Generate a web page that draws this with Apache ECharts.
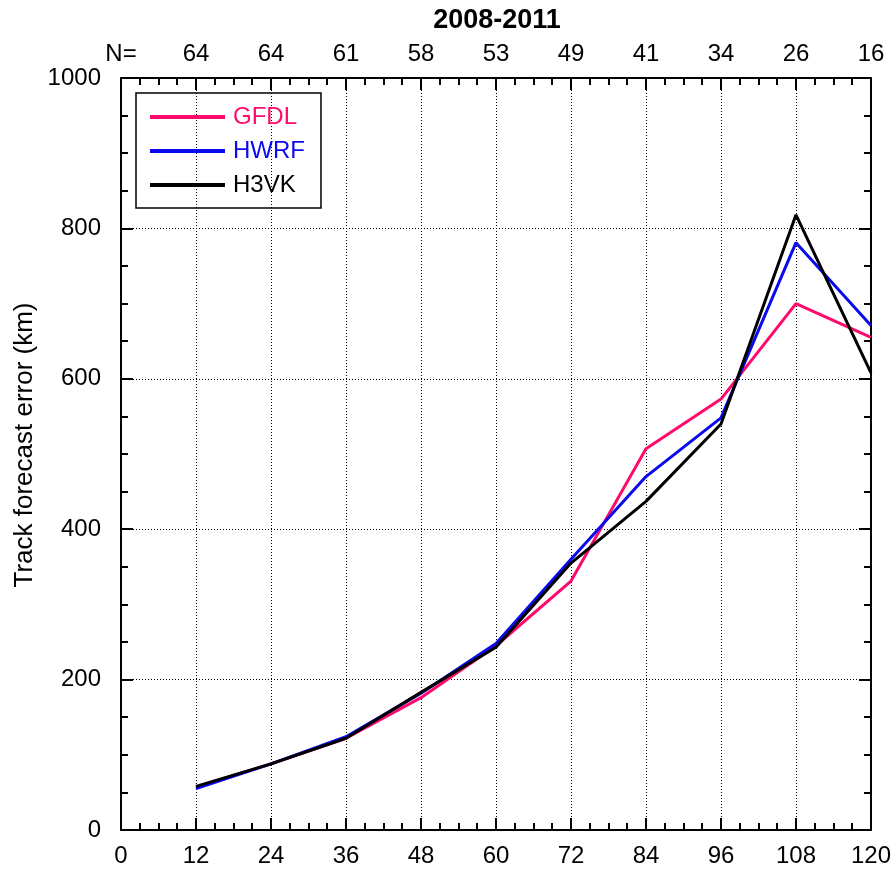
<!DOCTYPE html>
<html>
<head>
<meta charset="utf-8">
<script src="https://cdn.jsdelivr.net/npm/echarts@6/dist/echarts.min.js"></script>
<style>
  html, body { margin: 0; padding: 0; background: #fff; }
  #chart { width: 894px; height: 872px; }
</style>
</head>
<body>
<div id="chart"></div>
<script>
// ---- data ----
const leadTimes = [12, 24, 36, 48, 60, 72, 84, 96, 108, 120];
const sampleCounts = [64, 64, 61, 58, 53, 49, 41, 34, 26, 16];
const gfdl = [57, 88, 122, 176, 245, 331, 507, 573, 700, 655];
const hwrf = [55, 88, 124, 182, 248, 360, 470, 548, 781, 671];
const h3vk = [58, 88, 122, 183, 243, 355, 437, 540, 818, 608];
const seriesNames = ['GFDL', 'HWRF', 'H3VK'];
const seriesColors = ['#ff0a6c', '#0a0aee', '#000000'];
const title = '2008-2011';
const yTitle = 'Track forecast error (km)';

const FONT = '"Liberation Sans", Arial, Helvetica, sans-serif';
const pairs = arr => leadTimes.map((x, i) => [x, arr[i]]);

const chart = echarts.init(document.getElementById('chart'), null, { renderer: 'canvas' });

const gridLine = { show: true, lineStyle: { color: '#000', width: 1, type: [1, 2] } };
const frameLine = { show: true, onZero: false, lineStyle: { color: '#000', width: 2 } };

const option = {
  backgroundColor: '#fff',
  animation: false,
  textStyle: { fontFamily: FONT },
  grid: { left: 121, right: 21, top: 78, bottom: 42, containLabel: false },
  graphic: [{
    type: 'text', x: 497, y: 21,
    style: { text: title, font: 'bold 27px ' + FONT, fill: '#000', textAlign: 'center', textVerticalAlign: 'middle' }
  }, {
    type: 'text', x: 25, y: 445, rotation: Math.PI / 2,
    style: { text: yTitle, font: '26px ' + FONT, fill: '#000', textAlign: 'center', textVerticalAlign: 'middle' }
  }],
  legend: {
    left: 136, top: 93, orient: 'vertical',
    borderColor: '#000', borderWidth: 1.5, borderRadius: 0,
    padding: [12, 16, 11, 14],
    itemWidth: 75, itemHeight: 4, itemGap: 10, icon: 'rect',
    textStyle: { fontSize: 24, fontFamily: FONT, padding: [0, 0, 0, 3] },
    data: seriesNames.map((n, i) => ({ name: n, textStyle: { color: seriesColors[i] } }))
  },
  xAxis: [{
    type: 'value', position: 'bottom', min: 0, max: 120, interval: 12,
    axisLine: frameLine,
    axisTick: { show: true, inside: true, length: 12, lineStyle: { color: '#000', width: 2 } },
    minorTick: { show: true, splitNumber: 4, length: 7, lineStyle: { color: '#000', width: 2 } },
    axisLabel: { color: '#000', fontSize: 24, fontFamily: FONT, margin: 14, formatter: v => String(v) },
    splitLine: gridLine
  }, {
    type: 'value', position: 'top', min: 0, max: 120, interval: 12,
    axisLine: frameLine,
    axisTick: { show: true, inside: true, length: 12, lineStyle: { color: '#000', width: 2 } },
    minorTick: { show: true, splitNumber: 4, length: 7, lineStyle: { color: '#000', width: 2 } },
    axisLabel: {
      color: '#000', fontSize: 24, fontFamily: FONT, margin: 12,
      formatter: v => {
        if (v === 0) return 'N=';
        const i = leadTimes.indexOf(v);
        return i >= 0 ? String(sampleCounts[i]) : '';
      }
    },
    splitLine: { show: false }
  }],
  yAxis: [{
    type: 'value', position: 'left', min: 0, max: 1000, interval: 200,
    axisLine: frameLine,
    axisTick: { show: true, inside: true, length: 12, lineStyle: { color: '#000', width: 2 } },
    minorTick: { show: true, splitNumber: 4, length: 7, lineStyle: { color: '#000', width: 2 } },
    axisLabel: { color: '#000', fontSize: 24, fontFamily: FONT, margin: 20, formatter: v => String(v) },
    splitLine: gridLine
  }, {
    type: 'value', position: 'right', min: 0, max: 1000, interval: 200,
    axisLine: frameLine,
    axisTick: { show: true, inside: true, length: 12, lineStyle: { color: '#000', width: 2 } },
    minorTick: { show: true, splitNumber: 4, length: 7, lineStyle: { color: '#000', width: 2 } },
    axisLabel: { show: false },
    splitLine: { show: false }
  }],
  series: [gfdl, hwrf, h3vk].map((arr, i) => ({
    name: seriesNames[i], type: 'line', xAxisIndex: 0, yAxisIndex: 0,
    data: pairs(arr), symbol: 'none', showSymbol: false,
    lineStyle: { color: seriesColors[i], width: 3 },
    itemStyle: { color: seriesColors[i] },
    z: 3 + i
  }))
};
chart.setOption(option);
</script>
</body>
</html>
